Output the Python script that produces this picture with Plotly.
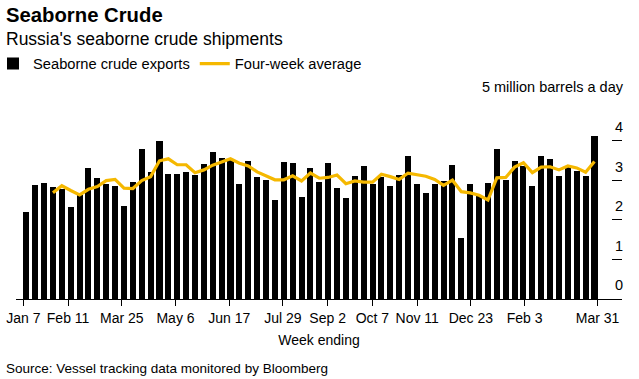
import pandas as pd
import plotly.graph_objects as go

# ---- data ----
exports = [2.19, 2.87, 2.92, 2.82, 2.78, 2.32, 2.63, 3.30, 3.05, 2.90, 2.86, 2.35, 2.95, 3.78, 3.20, 4.00,
           3.15, 3.15, 3.20, 3.13, 3.40, 3.70, 3.55, 3.51, 2.90, 3.48, 3.07, 3.00, 2.49, 3.45, 3.43, 2.57,
           3.30, 2.95, 3.43, 2.80, 2.54, 3.10, 3.35, 2.91, 3.08, 2.85, 3.12, 3.60, 2.90, 2.67, 2.90, 2.99, 3.39,
           1.55, 2.90, 2.59, 2.92, 3.80, 3.01, 3.48, 3.35, 2.85, 3.60, 3.53, 3.10, 3.33, 3.23, 3.10, 4.12]
four_week_avg = [None, None, None,
                 2.68, 2.86, 2.74, 2.63, 2.77, 2.84, 2.99, 3.02, 2.80, 2.79, 2.99, 3.09, 3.49,
                 3.54, 3.39, 3.39, 3.19, 3.26, 3.38, 3.47, 3.54, 3.43, 3.36, 3.21, 3.11, 3.01, 3.01, 3.11, 2.98,
                 3.18, 3.05, 3.07, 3.13, 2.91, 2.98, 2.95, 2.95, 3.15, 3.09, 3.02, 3.18, 3.14, 3.10, 3.02, 2.87, 3.00,
                 2.71, 2.68, 2.62, 2.50, 3.06, 3.07, 3.33, 3.44, 3.19, 3.33, 3.34, 3.26, 3.36, 3.31, 3.20, 3.47]
tick_dates = ["2023-01-07", "2023-02-11", "2023-03-25", "2023-05-06", "2023-06-17", "2023-07-29",
              "2023-09-02", "2023-10-07", "2023-11-11", "2023-12-23", "2024-02-03", "2024-03-31"]
tick_labels = ["Jan 7", "Feb 11", "Mar 25", "May 6", "Jun 17", "Jul 29",
               "Sep 2", "Oct 7", "Nov 11", "Dec 23", "Feb 3", "Mar 31"]
y_ticks = [0, 1, 2, 3, 4, 5]
y_tick_labels = ["0", "1", "2", "3", "4", "5 million barrels a day"]

FONT = "Liberation Sans, Arial, sans-serif"
GOLD = "#f5b800"

W, H = 639, 379
ML, MR, MT, MB = 16, 17, 101, 80
PW, PH = W - ML - MR, H - MT - MB


def px_x(p):
    return (p - ML) / PW


def px_y(p):
    return (H - MB - p) / PH


weeks = list(range(len(exports)))
bar_w = 0.68
half = bar_w / 2
# time-scale ticks spread from left edge of first bar to right edge of last bar
d = pd.to_datetime(tick_dates)
days = (d - d[0]).days
span = days[-1]
tickvals = [-half + dd / span * (len(exports) - 1 + 2 * half) for dd in days]

fig = go.Figure()
fig.add_trace(go.Bar(x=weeks, y=exports, name="Seaborne crude exports",
                     marker=dict(color="#000000", line=dict(width=0)), width=bar_w))
fig.add_trace(go.Scatter(x=weeks, y=four_week_avg, name="Four-week average", mode="lines",
                         line=dict(color=GOLD, width=3.2), connectgaps=False))

fig.update_layout(
    width=W, height=H,
    margin=dict(l=ML, r=MR, t=MT, b=MB, autoexpand=False),
    paper_bgcolor="white", plot_bgcolor="white",
    font=dict(family=FONT, size=14, color="#000000"),
    showlegend=True,
    legend=dict(orientation="h", x=px_x(-7), xanchor="left", y=px_y(64), yanchor="middle",
                font=dict(size=14.7, color="#000000"), bgcolor="rgba(0,0,0,0)",
                itemwidth=30, tracegroupgap=0, traceorder="normal"),
    bargap=0,
    xaxis=dict(range=[-1.163, 67.1], tickvals=tickvals, ticktext=tick_labels, automargin=False,
               showgrid=False, zeroline=False, showline=True, linecolor="#000000", linewidth=1,
               ticks="outside", ticklen=6, tickcolor="#000000", tickwidth=1,
               tickfont=dict(size=14, color="#000000"),
               title=dict(text="Week ending", font=dict(size=14, color="#000000"), standoff=10)),
    yaxis=dict(range=[0, 5], side="right", tickvals=y_ticks, ticktext=y_tick_labels, automargin=False,
               showgrid=False, zeroline=False, showline=False,
               ticks="inside", ticklen=10, tickcolor="#000000", tickwidth=1,
               ticklabelposition="inside top", ticklabeloverflow="allow",
               ticklabelstandoff=-4, ticklabelshift=-3,
               tickfont=dict(size=14.5, color="#000000")),
)

fig.add_annotation(text="<b>Seaborne Crude</b>", xref="paper", yref="paper",
                   x=px_x(4), y=px_y(15), xanchor="left", yanchor="middle",
                   showarrow=False, font=dict(size=20.3, color="#000000"))
fig.add_annotation(text="Russia's seaborne crude shipments", xref="paper", yref="paper",
                   x=px_x(4), y=px_y(39), xanchor="left", yanchor="middle",
                   showarrow=False, font=dict(size=17.5, color="#000000"))
fig.add_annotation(text="Source: Vessel tracking data monitored by Bloomberg", xref="paper", yref="paper",
                   x=px_x(4), y=px_y(368), xanchor="left", yanchor="middle",
                   showarrow=False, font=dict(size=13.5, color="#000000"))

fig.write_html("out.html", config={"displayModeBar": False},
               post_script="document.body.style.margin='0';document.body.style.padding='0';")
